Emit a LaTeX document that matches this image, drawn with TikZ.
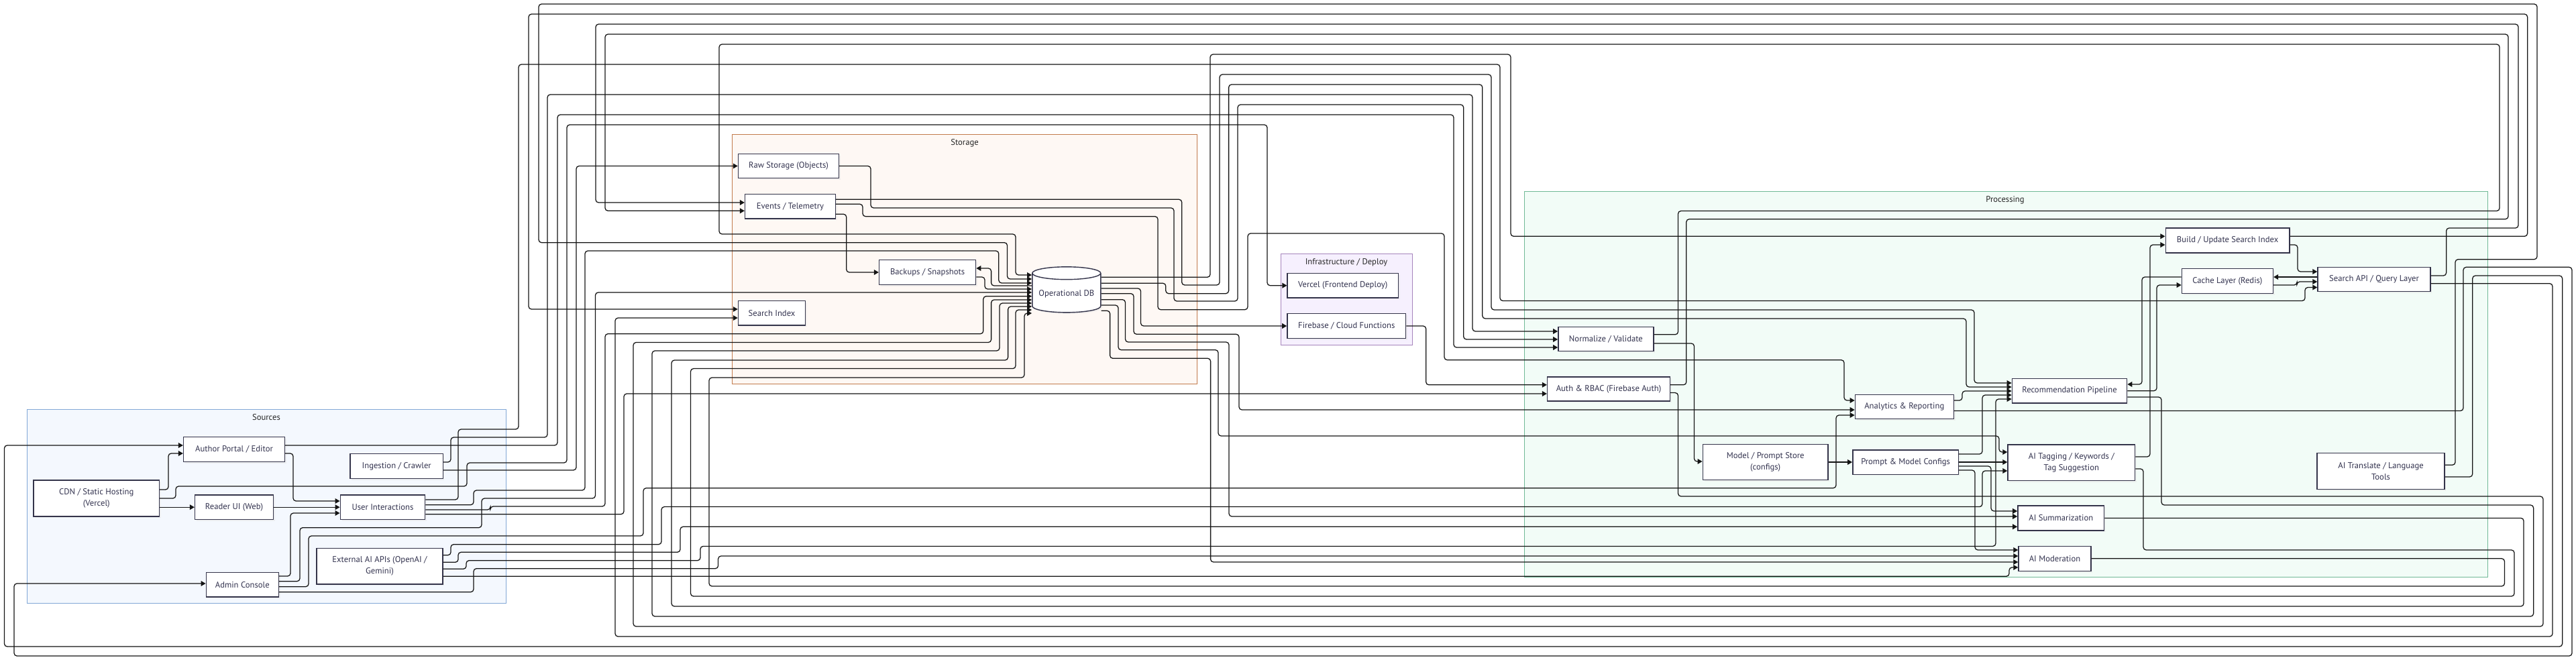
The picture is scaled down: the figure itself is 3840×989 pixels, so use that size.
\documentclass[tikz,border=0pt]{standalone}
\usepackage{fontspec}
\setmainfont{PT Sans}
\usetikzlibrary{arrows.meta,shapes.geometric,shadows}

\definecolor{nodeline}{HTML}{34344A}
\definecolor{nodetext}{HTML}{33334F}
\definecolor{srcfill}{HTML}{F4F8FE}
\definecolor{srcline}{HTML}{82A8D6}
\definecolor{stofill}{HTML}{FEF8F4}
\definecolor{stoline}{HTML}{C27A4C}
\definecolor{inffill}{HTML}{F6F0FE}
\definecolor{infline}{HTML}{A684BC}
\definecolor{profill}{HTML}{F2FCF7}
\definecolor{proline}{HTML}{70B996}

\begin{document}
\begin{tikzpicture}[
  x=0.025cm, y=-0.025cm,
  box/.style={draw=nodeline,fill=white,line width=1pt,text=nodetext,align=center,
    font=\fontsize{9}{12}\selectfont,inner sep=1pt,
    drop shadow={shadow xshift=1.6pt,shadow yshift=-1.6pt,fill=black!10}},
  dbase/.style={box,cylinder,shape border rotate=90,aspect=0.22},
  grp/.style={line width=0.6pt},
  grptitle/.style={font=\fontsize{9}{11}\selectfont,anchor=north,text=black!85},
  arr/.style={-{Triangle[length=5pt,width=5.5pt]},line width=0.9pt,rounded corners=3pt,draw=black!92}
]
\useasboundingbox[fill=white] (0,0) rectangle (3840,989);

% clusters
\draw[grp,draw=srcline,fill=srcfill] (40.3,610.7) rectangle (754.6,899.3);
\node[grptitle] (tsrc) at (397,613) {Sources};
\draw[grp,draw=stoline,fill=stofill] (1091.3,200.7) rectangle (1784.7,572.3);
\node[grptitle] (tsto) at (1438,203) {Storage};
\draw[grp,draw=infline,fill=inffill] (1909.7,378.3) rectangle (2105.7,514);
\node[grptitle] (tinf) at (2007,380.5) {Infrastructure / Deploy};
\draw[grp,draw=proline,fill=profill] (2272.4,285.3) rectangle (3708,860.5);
\node[grptitle] (tpro) at (2989,287.5) {Processing};

% sources
\node[box,minimum width=3.77cm,minimum height=0.915cm] (author) at (349,670) {Author Portal / Editor};
\node[box,minimum width=3.45cm,minimum height=0.915cm] (ingest) at (591.2,695) {Ingestion / Crawler};
\node[box,minimum width=4.68cm,minimum height=1.35cm] (cdn) at (143.8,743) {CDN / Static Hosting\\(Vercel)};
\node[box,minimum width=2.92cm,minimum height=0.91cm] (reader) at (349,756.2) {Reader UI (Web)};
\node[box,minimum width=3.16cm,minimum height=0.91cm] (ui) at (570.5,756.2) {User Interactions};
\node[box,minimum width=4.70cm,minimum height=1.33cm] (extai) at (566,844.2) {External AI APIs (OpenAI /\\Gemini)};
\node[box,minimum width=2.70cm,minimum height=0.91cm] (admin) at (361.3,871.8) {Admin Console};

% storage
\node[box,minimum width=3.75cm,minimum height=0.91cm] (raw) at (1175.5,247.5) {Raw Storage (Objects)};
\node[box,minimum width=3.37cm,minimum height=0.91cm] (events) at (1178,307.8) {Events / Telemetry};
\node[box,minimum width=3.60cm,minimum height=0.925cm] (backups) at (1382.6,405.8) {Backups / Snapshots};
\node[box,minimum width=2.50cm,minimum height=0.91cm] (sindex) at (1150.5,466.8) {Search Index};
\node[dbase,minimum width=2.55cm,minimum height=1.7cm] (db) at (1589.8,438) {Operational DB};

% infrastructure
\node[box,minimum width=4.13cm,minimum height=0.92cm] (vercel) at (2001.7,425.7) {Vercel (Frontend Deploy)};
\node[box,minimum width=4.42cm,minimum height=0.92cm] (firebase) at (2007.3,486) {Firebase / Cloud Functions};

% processing
\node[box,minimum width=3.55cm,minimum height=0.9cm] (normalize) at (2393.9,505.7) {Normalize / Validate};
\node[box,minimum width=4.57cm,minimum height=0.9cm] (auth) at (2398,580) {Auth \& RBAC (Firebase Auth)};
\node[box,minimum width=3.67cm,minimum height=0.9cm] (analytics) at (2838.8,606.4) {Analytics \& Reporting};
\node[box,minimum width=4.67cm,minimum height=1.32cm] (mstore) at (2631.7,689) {Model / Prompt Store\\(configs)};
\node[box,minimum width=3.94cm,minimum height=0.91cm] (pconf) at (2840.6,689) {Prompt \& Model Configs};
\node[box,minimum width=4.28cm,minimum height=0.92cm] (rec) at (3085,582.7) {Recommendation Pipeline};
\node[box,minimum width=4.74cm,minimum height=1.33cm] (tag) at (3087.8,689.7) {AI Tagging / Keywords /\\Tag Suggestion};
\node[box,minimum width=3.22cm,minimum height=0.92cm] (summ) at (3072.3,772.4) {AI Summarization};
\node[box,minimum width=2.70cm,minimum height=0.925cm] (moder) at (3063,832.8) {AI Moderation};
\node[box,minimum width=4.62cm,minimum height=0.92cm] (bidx) at (3320.6,358.4) {Build / Update Search Index};
\node[box,minimum width=3.40cm,minimum height=0.915cm] (cache) at (3320.4,419) {Cache Layer (Redis)};
\node[box,minimum width=4.20cm,minimum height=0.91cm] (sapi) at (3539,416.5) {Search API / Query Layer};
\node[box,minimum width=4.75cm,minimum height=1.34cm] (transl) at (3549,702.5) {AI Translate / Language\\Tools};

% sources edges
\draw[arr] (cdn.east |- 0,730) -- (251,730) -- (251,676) -- (author.west |- 0,676);
\draw[arr] (cdn.east |- 0,756.2) -- (reader.west);
\draw[arr] (cdn.east |- 0,743) -- (262,743) -- (262,725) -- (696,725) -- (696,690) -- (845,690) -- (845,186) -- (1889,186) -- (1889,425.7) -- (vercel.west);
\draw[arr] (author.east |- 0,676) -- (437,676) -- (437,747) -- (ui.west |- 0,747);
\draw[arr] (reader.east) -- (ui.west);
\draw[arr] (admin.east |- 0,859) -- (433,859) -- (433,765) -- (ui.west |- 0,765);
\draw[arr] (author.east |- 0,664) -- (831,664) -- (831,171) -- (2167,171) -- (2167,518) -- (normalize.west |- 0,518);
\draw[arr] (ingest.east |- 0,689) -- (672,689) -- (672,652) -- (816,652) -- (816,141) -- (2195,141) -- (2195,494) -- (normalize.west |- 0,494);
\draw[arr] (ingest.east |- 0,701) -- (859,701) -- (859,247.5) -- (raw.west);
\draw[arr] (ui.east |- 0,745) -- (683,745) -- (683,640) -- (773,640) -- (773,96) -- (2236,96) -- (2236,448.5) -- (3436,448.5) -- (3436,428.5) -- (sapi.west |- 0,428.5);
\draw[arr] (ui.east |- 0,752.7) -- (706,752.7) -- (706,731) -- (872,731) -- (872,374) -- (1488.8,374) -- (1488.8,422) -- (db.west |- 0,422);
\draw[arr] (ui.east |- 0,760) -- (731,760) -- (731,755) -- (902,755) -- (902,497.7) -- (1465.8,497.7) -- (1465.8,441.7) -- (db.west |- 0,441.7);
\draw[arr] (ui.east |- 0,766.7) -- (930,766.7) -- (930,587) -- (auth.west |- 0,587);
\draw[arr] (admin.east |- 0,866.7) -- (447,866.7) -- (447,786.7) -- (718,786.7) -- (718,743) -- (887.5,743) -- (887.5,436) -- (db.west |- 0,436);
\draw[arr] (admin.east |- 0,874.7) -- (460,874.7) -- (460,799) -- (959,799) -- (959,727.7) -- (2737,727.7) -- (2737,619) -- (analytics.west |- 0,619);
\draw[arr] (admin.east |- 0,882.7) -- (706,882.7) -- (706,847.7) -- (1070.6,847.7) -- (1070.6,829) -- (moder.west |- 0,829);
\draw[arr] (extai.east |- 0,827.7) -- (672,827.7) -- (672,811.7) -- (986,811.7) -- (986,755.6) -- (2955,755.6) -- (2955,702) -- (tag.west |- 0,702);
\draw[arr] (extai.east |- 0,838.3) -- (683,838.3) -- (683,823.3) -- (1014,823.3) -- (1014,785.3) -- (summ.west |- 0,785.3);
\draw[arr] (extai.east |- 0,848.3) -- (695,848.3) -- (695,835.7) -- (1044,835.7) -- (1044,814.4) -- (2975,814.4) -- (2975,595) -- (rec.west |- 0,595);
\draw[arr] (extai.east |- 0,859.3) -- (2995,859.3) -- (2995,846) -- (moder.west |- 0,846);

% storage edges
\draw[arr] (raw.east) -- (1298,247.5) -- (1298,310) -- (1750,310) -- (1750,449) -- (1845,449) -- (1845,156) -- (2181.7,156) -- (2181.7,506) -- (normalize.west |- 0,506);
\draw[arr] (events.east |- 0,297.3) -- (1761.7,297.3) -- (1761.7,425) -- (1818,425) -- (1818,111) -- (2223,111) -- (2223,462) -- (2943,462) -- (2943,571) -- (rec.west |- 0,571);
\draw[arr] (events.east |- 0,304.3) -- (1286,304.3) -- (1286,322.7) -- (1726,322.7) -- (1726,461.7) -- (1860,461.7) -- (1860,348) -- (2153,348) -- (2153,536.7) -- (2749,536.7) -- (2749,597) -- (analytics.west |- 0,597);
\draw[arr] (events.east |- 0,319.3) -- (1261.7,319.3) -- (1261.7,406) -- (backups.west |- 0,406);
\draw[arr] (db.west |- 0,426) -- (1477.6,426) -- (1477.6,400) -- (backups.east |- 0,400);
\draw[arr] (backups.east |- 0,413) -- (1468,413) -- (1468,431) -- (db.west |- 0,431);
\draw[arr] (db.east |- 0,413.3) -- (1804,413.3) -- (1804,81) -- (2252,81) -- (2252,352.3) -- (bidx.west |- 0,352.3);
\draw[arr] (db.east |- 0,422.3) -- (1737.8,422.3) -- (1737.8,437.7) -- (1831.6,437.7) -- (1831.6,126) -- (2209.8,126) -- (2209.8,475) -- (2931,475) -- (2931,577) -- (rec.west |- 0,577);
\draw[arr] (db.east |- 0,430) -- (1700.5,430) -- (1700.5,486) -- (firebase.west);
\draw[arr] (db.east |- 0,437.7) -- (1690,437.7) -- (1690,498.3) -- (1847,498.3) -- (1847,611) -- (analytics.west |- 0,611);
\draw[arr] (db.east |- 0,446.7) -- (1677.5,446.7) -- (1677.5,510) -- (1832,510) -- (1832,770) -- (summ.west |- 0,770);
\draw[arr] (db.east |- 0,455) -- (1667,455) -- (1667,521.7) -- (1816,521.7) -- (1816,650) -- (2980,650) -- (2980,674) -- (tag.west |- 0,674);
\draw[arr] (db.east |- 0,463.3) -- (1654.6,463.3) -- (1654.6,534.3) -- (1804.6,534.3) -- (1804.6,838) -- (moder.west |- 0,838);

% infrastructure edge
\draw[arr] (firebase.east) -- (2125.7,486) -- (2125.7,573.8) -- (auth.west |- 0,573.8);

% processing edges
\draw[arr] (normalize.east |- 0,512) -- (2525.5,512) -- (2525.5,688) -- (mstore.west |- 0,688);
\draw[arr] (mstore) -- (pconf);
\draw[arr] (pconf.east |- 0,677) -- (2955,677) -- (2955,589) -- (rec.west |- 0,589);
\draw[arr] (pconf.east |- 0,689) -- (tag.west |- 0,689);
\draw[arr] (pconf.east |- 0,695) -- (2968,695) -- (2968,762) -- (summ.west |- 0,762);
\draw[arr] (pconf.east |- 0,701) -- (2944,701) -- (2944,820) -- (moder.west |- 0,820);
\draw[arr] (analytics.east |- 0,597) -- (2925,597) -- (2925,583) -- (rec.west |- 0,583);
\draw[arr] (tag.east |- 0,681) -- (3205,681) -- (3205,365) -- (bidx.west |- 0,365);
\draw[arr] (rec.east) -- (3215,582.7) -- (3215,425) -- (cache.west |- 0,425);
\draw[arr] (cache.west |- 0,413) -- (3193,413) -- (3193,573) -- (rec.east |- 0,573);
\draw[arr] (bidx.east |- 0,365) -- (3425,365) -- (3425,405) -- (sapi.west |- 0,405);
\draw[arr] (sapi.west |- 0,413) -- (cache.east |- 0,413);
\draw[arr] (cache.east |- 0,425) -- (3424,425) -- (3424,420) -- (sapi.west |- 0,420);

% long loops round the top
\draw[arr] (normalize.east |- 0,498.8) -- (2501.5,498.8) -- (2501.5,314.5) -- (3726,314.5) -- (3726,66) -- (1072,66) -- (1072,349) -- (1514,349) -- (1514,410) -- (db.west |- 0,410);
\draw[arr] (transl.east |- 0,693.3) -- (3660,693.3) -- (3660,386.7) -- (3782,386.7) -- (3782,6) -- (803,6) -- (803,361.7) -- (1501.5,361.7) -- (1501.5,416) -- (db.west |- 0,416);
\draw[arr] (auth.east |- 0,573.8) -- (2513.8,573.8) -- (2513.8,326.7) -- (3739,326.7) -- (3739,51) -- (902,51) -- (902,314.3) -- (events.west |- 0,314.3);
\draw[arr] (sapi.east |- 0,411) -- (3646.6,411) -- (3646.6,340) -- (3754,340) -- (3754,36) -- (888,36) -- (888,302) -- (events.west |- 0,302);
\draw[arr] (bidx.east |- 0,352.3) -- (3767.6,352.3) -- (3767.6,21) -- (788,21) -- (788,461) -- (sindex.west |- 0,461);

% long loops round the bottom
\draw[arr] (moder.east) -- (3733.5,832.8) -- (3733.5,874) -- (1057,874) -- (1057,563) -- (1527,563) -- (1527,467) -- (db.west |- 0,467);
\draw[arr] (tag.east |- 0,699) -- (3195,699) -- (3195,820) -- (3748,820) -- (3748,889) -- (1029.5,889) -- (1029.5,549.6) -- (1514,549.6) -- (1514,462) -- (db.west |- 0,462);
\draw[arr] (summ.east) -- (3762,772.4) -- (3762,904) -- (1001,904) -- (1001,537) -- (1502.6,537) -- (1502.6,457) -- (db.west |- 0,457);
\draw[arr] (rec.east |- 0,592) -- (3222,592) -- (3222,753) -- (3776.6,753) -- (3776.6,919) -- (972,919) -- (972,523) -- (1490,523) -- (1490,452) -- (db.west |- 0,452);
\draw[arr] (auth.east |- 0,585.6) -- (2501.5,585.6) -- (2501.5,740) -- (3791,740) -- (3791,934) -- (944,934) -- (944,510.5) -- (1477.6,510.5) -- (1477.6,447) -- (db.west |- 0,447);
\draw[arr] (sapi.east |- 0,422.7) -- (3805,422.7) -- (3805,949) -- (917,949) -- (917,474) -- (sindex.west |- 0,474);
\draw[arr] (transl.east |- 0,711) -- (3685.7,711) -- (3685.7,411) -- (3819.6,411) -- (3819.6,964) -- (6.5,964) -- (6.5,664) -- (author.west |- 0,664);
\draw[arr] (analytics.east |- 0,612.5) -- (3672,612.5) -- (3672,398.3) -- (3834,398.3) -- (3834,978) -- (21,978) -- (21,870) -- (admin.west |- 0,870);
\end{tikzpicture}
\end{document}
